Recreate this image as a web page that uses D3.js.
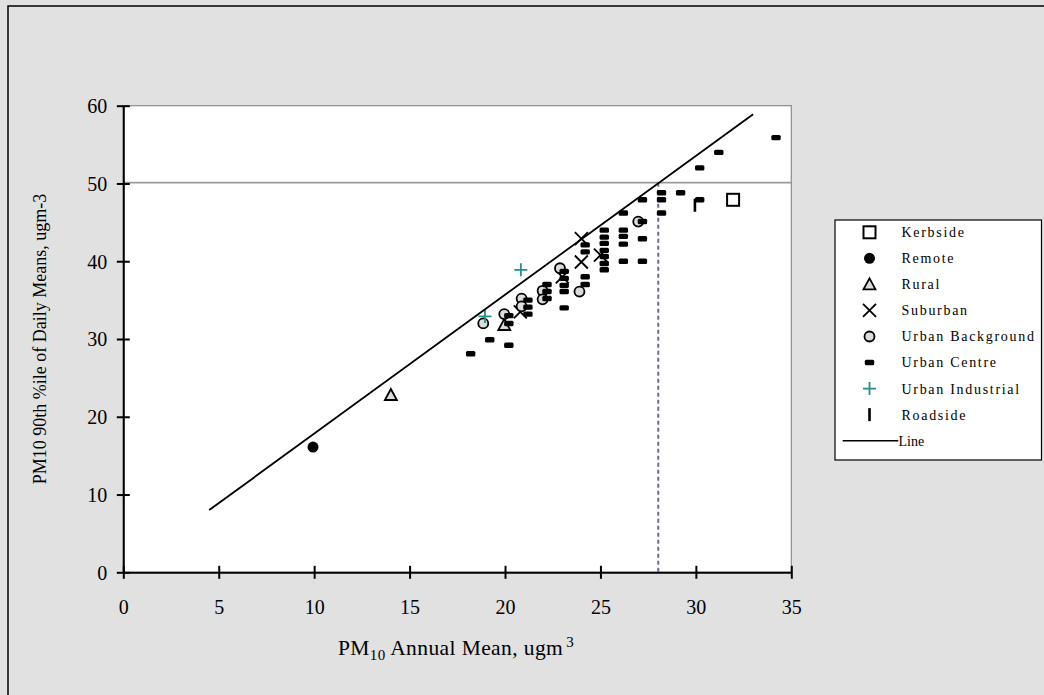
<!DOCTYPE html>
<html><head><meta charset="utf-8">
<script src="https://cdn.jsdelivr.net/npm/d3@7"></script>
<style>html,body{margin:0;padding:0;background:#e1e1e1;}svg{display:block;}</style>
</head><body>
<svg id="chart" width="1044" height="695"></svg>
<script>
// ---- data ----
const seriesNames = ["Kerbside","Remote","Rural","Suburban","Urban Background","Urban Centre","Urban Industrial","Roadside"];
const kerbsideX = [31.95];
const kerbsideY = [47.9];
const remoteX = [9.94];
const remoteY = [16.1];
const ruralX = [14.02, 19.96];
const ruralY = [22.8, 31.8];
const suburbanX = [24.0, 24.0, 25.0, 23.0, 20.8];
const suburbanY = [42.9, 39.9, 40.8, 38.0, 33.5];
const urbanBgX = [18.86, 19.96, 20.87, 20.87, 21.97, 21.97, 22.88, 23.9, 26.98];
const urbanBgY = [32.0, 33.2, 35.2, 34.2, 36.2, 35.1, 39.1, 36.1, 45.1];
const urbanCentreX = [18.2,19.2,20.2,20.2,20.2,21.2,21.2,21.2,22.2,22.2,22.2,23.1,23.1,23.1,23.1,23.1,
  24.2,24.2,24.2,24.2,25.2,25.2,25.2,25.2,25.2,25.2,25.2,26.2,26.2,26.2,26.2,26.2,27.2,27.2,27.2,27.2,
  28.2,28.2,28.2,29.2,30.2,30.2,31.2,34.2];
const urbanCentreY = [28.1,29.9,29.2,32.0,33.0,35.0,34.1,33.2,37.0,36.1,35.2,38.7,37.8,36.9,36.1,34.0,
  42.1,41.2,38.0,37.0,44.0,43.1,42.3,41.4,40.6,39.7,38.9,46.2,44.0,43.2,42.2,40.0,47.9,45.1,42.9,40.0,
  48.8,47.9,46.2,48.8,47.9,52.0,54.0,55.9];
const urbanIndX = [18.95, 20.83];
const urbanIndY = [32.9, 38.9];
const roadsideX = [29.95];
const roadsideY = [47.2];
const lineX = [4.5, 33.0];
const lineY = [8.0, 58.9];
const limitY = 50.1;     // horizontal reference line
const limitX = 28.03;    // vertical dotted line
const xTicks = [0,5,10,15,20,25,30,35];
const yTicks = [0,10,20,30,40,50,60];

// ---- layout ----
const svg = d3.select("#chart");
const W = 1044, H = 695;
const plot = {left:123.3, right:791.3, top:105.7, bottom:572.3};
const x = d3.scaleLinear().domain([0,35]).range([plot.left, plot.right]);
const y = d3.scaleLinear().domain([0,60]).range([plot.bottom, plot.top]);
const serif = "'Liberation Serif','Times New Roman',serif";
const teal = "#268c8c";
const lightFill = "#dcdcdc";

svg.append("rect").attr("width",W).attr("height",H).attr("fill","#e1e1e1");
// outer chart border (left/top visible, rest clipped)
svg.append("rect").attr("x",8).attr("y",6).attr("width",W+20).attr("height",H+20)
  .attr("fill","#e1e1e1").attr("stroke","#000").attr("stroke-width",1.5);

// plot area
svg.append("rect").attr("x",plot.left).attr("y",plot.top)
  .attr("width",plot.right-plot.left).attr("height",plot.bottom-plot.top)
  .attr("fill","#fff").attr("stroke","#8c8c8c").attr("stroke-width",1.2);

// horizontal limit line
svg.append("line").attr("x1",plot.left).attr("x2",plot.right)
  .attr("y1",y(limitY)).attr("y2",y(limitY))
  .attr("stroke","#9a9a9a").attr("stroke-width",1.8);
// vertical dotted line
svg.append("line").attr("x1",x(limitX)).attr("x2",x(limitX))
  .attr("y1",y(limitY)).attr("y2",plot.bottom)
  .attr("stroke","#6a6a9c").attr("stroke-width",2).attr("stroke-dasharray","4,3");

// axes
const xAxis = d3.axisBottom(x).tickValues(xTicks).tickSize(0).tickPadding(0);
const yAxis = d3.axisLeft(y).tickValues(yTicks).tickSize(0).tickPadding(0);
const gx = svg.append("g").attr("transform",`translate(0,${plot.bottom})`).call(xAxis);
const gy = svg.append("g").attr("transform",`translate(${plot.left},0)`).call(yAxis);
[gx,gy].forEach(g=>{
  g.select(".domain").attr("stroke","#000").attr("stroke-width",2);
  g.selectAll(".tick line").remove();
  g.selectAll("text").attr("font-family",serif).attr("font-size",20).attr("fill","#000");
});
gx.selectAll(".tick").append("line").attr("y1",-6.5).attr("y2",6.5).attr("stroke","#000").attr("stroke-width",2);
gx.selectAll(".tick text").attr("dy",null).attr("y",42);
gy.selectAll(".tick").append("line").attr("x1",-6.5).attr("x2",6.5).attr("stroke","#000").attr("stroke-width",2);
gy.selectAll(".tick text").attr("x",-16).attr("dy","0.34em");

// axis titles
const xt = svg.append("text").attr("x",456).attr("y",655).attr("text-anchor","middle")
  .attr("font-family",serif).attr("font-size",21.5).attr("letter-spacing","0.4px").attr("fill","#000");
xt.append("tspan").text("PM");
xt.append("tspan").attr("font-size",15).attr("dy",5).text("10");
xt.append("tspan").attr("dy",-5).text(" Annual Mean, ugm");
xt.append("tspan").attr("font-size",15).attr("dy",-8).attr("dx",3).text("3");

svg.append("text").attr("transform",`translate(46,${(plot.top+plot.bottom)/2}) rotate(-90)`)
  .attr("text-anchor","middle").attr("font-family",serif).attr("font-size",18).attr("fill","#000")
  .text("PM10 90th %ile of Daily Means, ugm-3");

// ---- marker drawers ----
const markers = {
  "Kerbside": (g)=>g.append("rect").attr("x",-6).attr("y",-6).attr("width",12).attr("height",12)
      .attr("fill","#fff").attr("stroke","#000").attr("stroke-width",2),
  "Remote": (g)=>g.append("circle").attr("r",5.5).attr("fill","#000"),
  "Rural": (g)=>g.append("path").attr("d","M0,-6L6,5L-6,5Z").attr("fill",lightFill)
      .attr("stroke","#000").attr("stroke-width",1.8).attr("stroke-linejoin","miter"),
  "Suburban": (g)=>g.append("path").attr("d","M-6.5,-6.5L6.5,6.5M-6.5,6.5L6.5,-6.5")
      .attr("stroke","#000").attr("stroke-width",1.8).attr("fill","none"),
  "Urban Background": (g)=>g.append("circle").attr("r",5).attr("fill",lightFill)
      .attr("stroke","#000").attr("stroke-width",1.8),
  "Urban Centre": (g)=>g.append("rect").attr("x",-4.7).attr("y",-2.7).attr("width",9.4).attr("height",5.4)
      .attr("rx",1.5).attr("fill","#000"),
  "Urban Industrial": (g)=>g.append("path").attr("d","M-6.5,0L6.5,0M0,-6.5L0,6.5")
      .attr("stroke",teal).attr("stroke-width",1.8).attr("fill","none"),
  "Roadside": (g)=>g.append("rect").attr("x",-1.3).attr("y",-6.5).attr("width",2.6).attr("height",13)
      .attr("fill","#000")
};

const seriesData = [
  ["Kerbside", kerbsideX, kerbsideY],
  ["Remote", remoteX, remoteY],
  ["Rural", ruralX, ruralY],
  ["Suburban", suburbanX, suburbanY],
  ["Urban Background", urbanBgX, urbanBgY],
  ["Urban Centre", urbanCentreX, urbanCentreY],
  ["Urban Industrial", urbanIndX, urbanIndY],
  ["Roadside", roadsideX, roadsideY]
];

seriesData.forEach(([name, xs, ys])=>{
  const pts = xs.map((v,i)=>({x:v, y:ys[i]}));
  svg.append("g").selectAll("g").data(pts).join("g")
    .attr("transform",d=>`translate(${x(d.x)},${y(d.y)})`)
    .each(function(){ markers[name](d3.select(this)); });
});

// trend line
svg.append("path").datum(lineX.map((v,i)=>[v,lineY[i]]))
  .attr("d",d3.line().x(d=>x(d[0])).y(d=>y(d[1])))
  .attr("stroke","#000").attr("stroke-width",1.8).attr("fill","none");

// ---- legend ----
const lg = svg.append("g");
lg.append("rect").attr("x",835).attr("y",220).attr("width",206.5).attr("height",240)
  .attr("fill","#fff").attr("stroke","#000").attr("stroke-width",1.2);
const rowY0 = 232.3, rowH = 26.05;
seriesNames.forEach((name,i)=>{
  const cy = rowY0 + i*rowH;
  const mg = lg.append("g").attr("transform",`translate(869.5,${cy})`);
  markers[name](mg);
  lg.append("text").attr("x",901.5).attr("y",cy).attr("dy","0.35em")
    .attr("font-family",serif).attr("font-size",14).attr("letter-spacing","1.7px")
    .attr("fill","#000").text(name);
});
const lineRowY = rowY0 + 8*rowH;
lg.append("line").attr("x1",842.7).attr("x2",898.3).attr("y1",lineRowY).attr("y2",lineRowY)
  .attr("stroke","#000").attr("stroke-width",1.5);
lg.append("text").attr("x",898.5).attr("y",lineRowY).attr("dy","0.35em")
  .attr("font-family",serif).attr("font-size",14).attr("fill","#000").text("Line");
</script>
</body></html>
